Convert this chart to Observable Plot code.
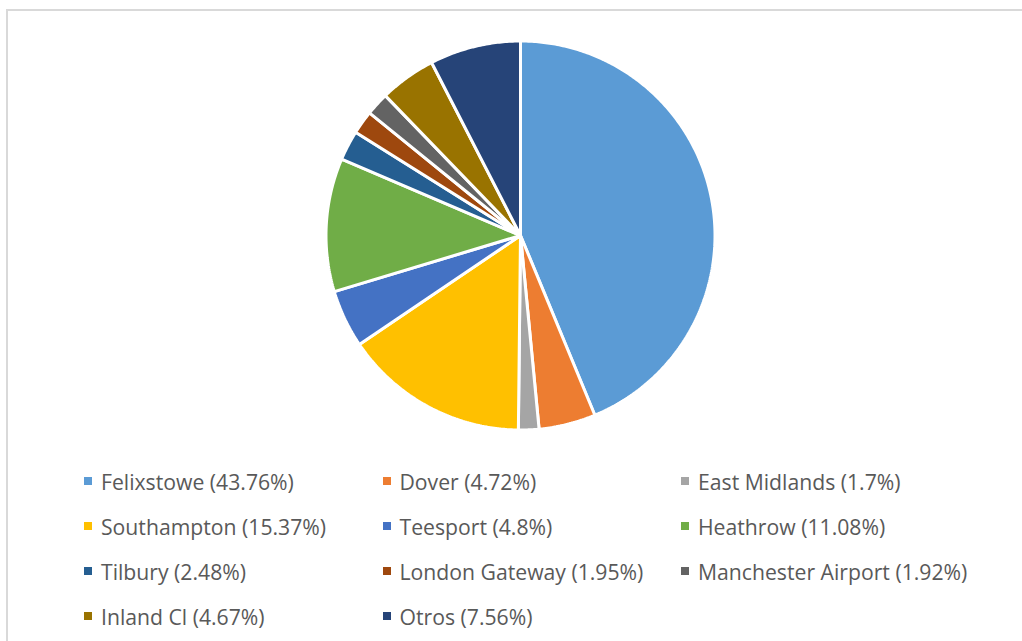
<!DOCTYPE html>
<html>
<head>
<meta charset="utf-8">
<script src="https://cdn.jsdelivr.net/npm/d3@7"></script>
<script src="https://cdn.jsdelivr.net/npm/@observablehq/plot@0.6"></script>
<style>
  html, body { margin: 0; padding: 0; background: #fff; overflow: hidden; }
  #page { position: relative; width: 1022px; height: 641px; }
  #frame { position: absolute; left: 6px; top: 9px; width: 1040px; height: 660px; border: 2px solid #d9d9d9; box-sizing: border-box; }
  #chart { position: absolute; left: 0; top: 0; }
  #legend { position: absolute; left: 0; top: 0; width: 1022px; height: 641px; font-family: "Open Sans", sans-serif; font-size: 21.2px; color: #595959; }
  .item { position: absolute; display: flex; align-items: center; height: 30px; white-space: nowrap; }
  .sw { width: 8px; height: 8px; margin-right: 9px; flex: none; }
</style>
</head>
<body>
<div id="page">
  <div id="frame"></div>
  <div id="chart"></div>
  <div id="legend"></div>
</div>
<script>
const ports = ["Felixstowe", "Dover", "East Midlands", "Southampton", "Teesport", "Heathrow", "Tilbury", "London Gateway", "Manchester Airport", "Inland Cl", "Otros"];
const shares = [43.76, 4.72, 1.7, 15.37, 4.8, 11.08, 2.48, 1.95, 1.92, 4.67, 7.56];
const labels = ["43.76%", "4.72%", "1.7%", "15.37%", "4.8%", "11.08%", "2.48%", "1.95%", "1.92%", "4.67%", "7.56%"];
const colors = ["#5B9BD5", "#ED7D31", "#A5A5A5", "#FFC000", "#4472C4", "#70AD47", "#255E91", "#9E480E", "#636363", "#997300", "#264478"];

const data = ports.map((p, i) => ({port: p, share: shares[i], label: labels[i]}));
const arcs = d3.pie().sort(null).value(d => d.share)(data);

function ringFor(a0, a1) {
  const n = Math.max(2, Math.ceil((a1 - a0) / 0.01));
  const pts = [[0, 0]];
  for (let k = 0; k <= n; k++) {
    const a = a0 + (a1 - a0) * k / n;
    pts.push([Math.sin(a), Math.cos(a)]);
  }
  pts.push([0, 0]);
  return pts;
}
const slices = arcs.map(a => ({
  type: "Feature",
  properties: {port: a.data.port},
  geometry: {type: "Polygon", coordinates: [ringFor(a.startAngle, a.endAngle)]}
}));
const disk = {type: "Feature", properties: {}, geometry: {type: "Polygon", coordinates: [ringFor(0, 2 * Math.PI)]}};

const W = 1022, H = 460, cx = 520, cy = 235, r = 194.5;
const chart = Plot.plot({
  width: W,
  height: H,
  marginLeft: cx - r,
  marginRight: W - (cx + r),
  marginTop: cy - r,
  marginBottom: H - (cy + r),
  projection: {type: "reflect-y", domain: disk},
  color: {domain: ports, range: colors},
  marks: [
    Plot.geo(slices, {fill: d => d.properties.port, stroke: "white", strokeWidth: 3, strokeLinejoin: "miter"})
  ]
});
document.getElementById("chart").appendChild(chart);

const legend = document.getElementById("legend");
data.forEach((d, i) => {
  const col = i % 3, row = Math.floor(i / 3);
  const item = document.createElement("div");
  item.className = "item";
  item.style.left = (84 + col * 298.5) + "px";
  item.style.top = (481 + row * 45 - 15) + "px";
  const sw = document.createElement("span");
  sw.className = "sw";
  sw.style.background = colors[i];
  const tx = document.createElement("span");
  tx.textContent = `${d.port} (${d.label})`;
  item.appendChild(sw);
  item.appendChild(tx);
  legend.appendChild(item);
});
</script>
</body>
</html>
